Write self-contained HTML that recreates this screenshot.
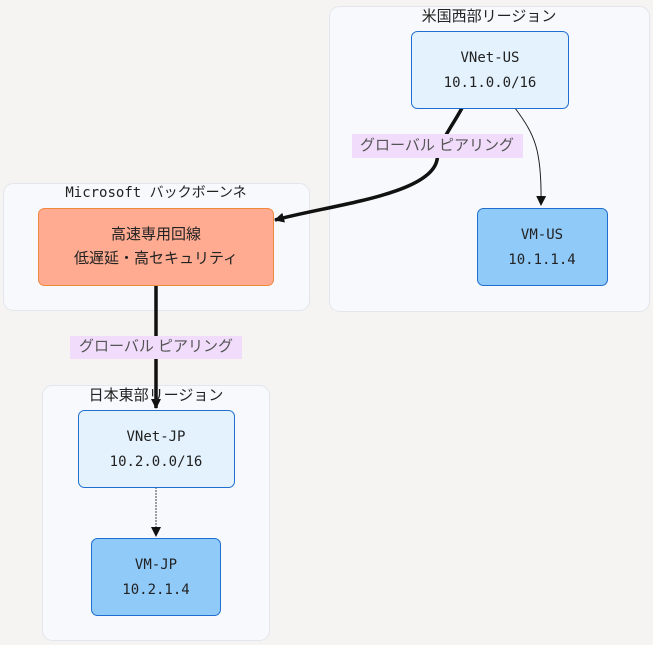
<!DOCTYPE html>
<html><head><meta charset="utf-8"><style>
body{margin:0;background:#f5f4f2;}
svg{display:block}
text{font-family:"DejaVu Sans Mono","Liberation Mono","Noto Sans CJK JP",monospace;font-size:14px;fill:#222;text-anchor:middle;dominant-baseline:middle}
.j{font-family:"Liberation Sans","Noto Sans CJK JP",sans-serif;font-size:15px}
.l{font-family:"Liberation Sans","Noto Sans CJK JP",sans-serif;font-size:15px;fill:#555}
</style></head><body>
<svg width="653" height="645" viewBox="0 0 653 645">
<defs><marker id="a" viewBox="0 0 10 10" refX="9" refY="5" markerWidth="10" markerHeight="10" markerUnits="userSpaceOnUse" orient="auto-start-reverse"><path d="M0,0L10,5L0,10z" fill="#111"/></marker></defs>
<rect x="329.5" y="6.5" width="320" height="305" rx="10" fill="#f8f9fc" stroke="#e3e6ec"/>
<rect x="3.5" y="183.5" width="306" height="127" rx="10" fill="#f8f9fc" stroke="#e3e6ec"/>
<rect x="42.5" y="385.5" width="227" height="255" rx="10" fill="#f8f9fc" stroke="#e3e6ec"/>

<path d="M462,108 C450,130 440,140 437,160 C430,195 330,205 275,220" fill="none" stroke="#111" stroke-width="3.5" marker-end="url(#a)"/>
<path d="M515,108 C535,135 542,150 541,205" fill="none" stroke="#222" stroke-width="1" marker-end="url(#a)"/>
<path d="M156,285 V408" fill="none" stroke="#111" stroke-width="3.5" marker-end="url(#a)"/>
<path d="M156,487 V536" fill="none" stroke="#444" stroke-width="1" stroke-dasharray="2,1" marker-end="url(#a)"/>

<text x="489" y="17" class="j">米国西部リージョン</text>
<text x="156" y="193">Microsoft バックボーンネ</text>
<text x="156" y="396" class="j">日本東部リージョン</text>

<rect x="411.5" y="31.5" width="157" height="77" rx="6" fill="#e3f2fd" stroke="#1f6fcf"/>
<text x="490" y="58">VNet-US</text><text x="490" y="83">10.1.0.0/16</text>
<rect x="477.5" y="208.5" width="130" height="77" rx="6" fill="#90caf9" stroke="#1f6fcf"/>
<text x="542" y="235">VM-US</text><text x="542" y="260">10.1.1.4</text>
<rect x="38.5" y="208.5" width="235" height="77" rx="6" fill="#ffab91" stroke="#f0883e"/>
<text x="156" y="235" class="j">高速専用回線</text><text x="156" y="259" class="j">低遅延・高セキュリティ</text>
<rect x="78.5" y="410.5" width="156" height="77" rx="6" fill="#e3f2fd" stroke="#1f6fcf"/>
<text x="156" y="437">VNet-JP</text><text x="156" y="462">10.2.0.0/16</text>
<rect x="91.5" y="538.5" width="129" height="77" rx="6" fill="#90caf9" stroke="#1f6fcf"/>
<text x="156" y="565">VM-JP</text><text x="156" y="590">10.2.1.4</text>

<rect x="352" y="134" width="171" height="24" fill="#f1dcfb"/>
<text x="437" y="146" class="l">グローバル ピアリング</text>
<rect x="70" y="336" width="172" height="23" fill="#f1dcfb"/>
<text x="156" y="347" class="l">グローバル ピアリング</text>
</svg>
</body></html>
